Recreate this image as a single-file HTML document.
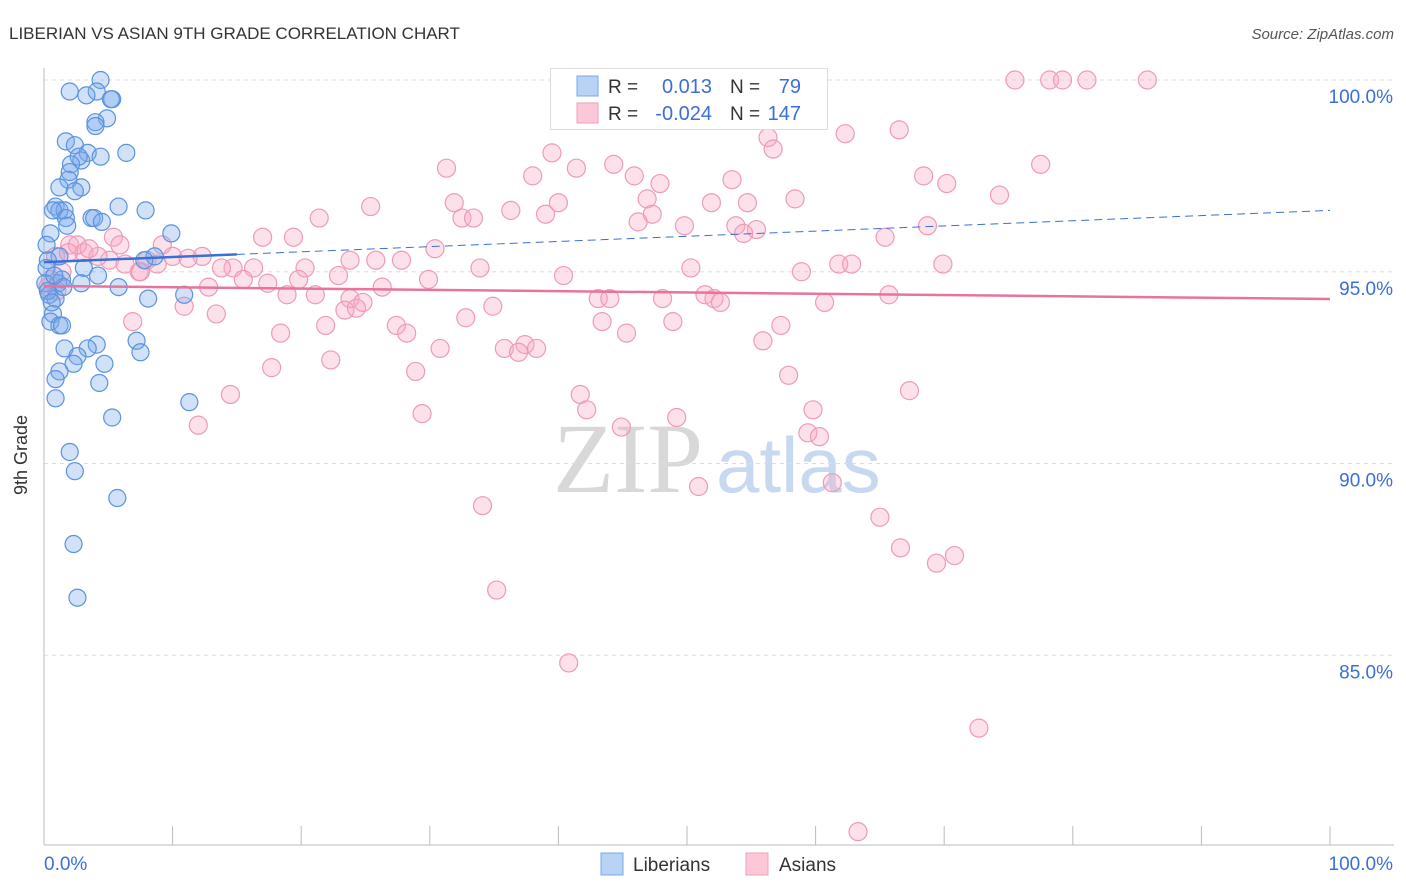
<!DOCTYPE html>
<html><head><meta charset="utf-8"><style>
body{margin:0;background:#fff;font-family:"Liberation Sans",sans-serif}
svg{display:block}
</style></head><body>
<svg id="chart" width="1406" height="892">
<text x="9" y="39" font-size="17" fill="#333">LIBERIAN VS ASIAN 9TH GRADE CORRELATION CHART</text>
<text x="1394" y="39" font-size="15" fill="#555" font-style="italic" text-anchor="end">Source: ZipAtlas.com</text>
<text x="27" y="455" font-size="18" fill="#333" transform="rotate(-90 27 455)" text-anchor="middle">9th Grade</text>
<g><text x="553" y="492" font-family="Liberation Serif,serif" font-size="100" fill="#d8d8d8">ZIP</text><text x="716" y="492" font-size="78" fill="#c7d9f0">atlas</text></g>
<g id="grid"></g><g id="axes"></g><g id="pts"></g><g id="lines"></g>
<g>
<rect x="550.5" y="68.5" width="277" height="61" fill="#fff" stroke="#ddd"/>
<rect x="577" y="76" width="21" height="20" fill="#b8d3f5" stroke="#7aaae8"/>
<rect x="577" y="103" width="21" height="20" fill="#fcc8d8" stroke="#f0a0bb"/>
<text x="608" y="93" font-size="19" fill="#333">R = </text><text x="712" y="93" font-size="20" fill="#3a6fd8" text-anchor="end">0.013</text>
<text x="730" y="93" font-size="19" fill="#333">N = </text><text x="801" y="93" font-size="20" fill="#3a6fd8" text-anchor="end">79</text>
<text x="608" y="120" font-size="19" fill="#333">R = </text><text x="712" y="120" font-size="20" fill="#3a6fd8" text-anchor="end">-0.024</text>
<text x="730" y="120" font-size="19" fill="#333">N = </text><text x="801" y="120" font-size="20" fill="#3a6fd8" text-anchor="end">147</text>
</g>
<g>
<rect x="601" y="853" width="22" height="22" fill="#b8d3f5" stroke="#7aaae8"/>
<text x="633" y="871" font-size="19" fill="#333">Liberians</text>
<rect x="746" y="853" width="22" height="22" fill="#fcc8d8" stroke="#f0a0bb"/>
<text x="779" y="871" font-size="19" fill="#333">Asians</text>
</g>
</svg>
<script>
const yTicks=[100,95,90,85];
const yTickLabels=["100.0%","95.0%","90.0%","85.0%"];
const xEndLabels=["0.0%","100.0%"];
const blueX=[4.4,2.0,4.1,3.3,5.3,5.2,4.9,4.0,4.0,1.7,2.4,3.4,4.4,6.4,2.9,2.7,2.1,2.0,1.9,1.2,2.9,2.4,5.8,7.9,0.9,1.2,1.6,0.7,1.7,3.7,3.9,4.5,1.8,0.5,9.9,0.2,8.6,1.2,0.3,3.1,7.8,4.2,1.4,2.9,5.8,1.1,0.1,0.4,0.9,8.1,10.9,0.7,0.5,1.2,1.4,7.2,4.1,3.4,1.6,7.5,2.6,4.7,2.3,1.2,0.9,4.3,0.9,11.3,5.3,2.0,2.4,5.7,2.3,2.6,0.3,0.6,1.5,0.2,0.8];
const blueY=[100.0,99.7,99.7,99.6,99.5,99.5,99.0,98.9,98.8,98.4,98.3,98.1,98.0,98.1,97.9,98.0,97.8,97.6,97.4,97.2,97.2,97.1,96.7,96.6,96.7,96.6,96.6,96.6,96.4,96.4,96.4,96.3,96.2,96.0,96.0,95.7,95.4,95.4,95.3,95.1,95.3,94.9,94.8,94.7,94.6,94.7,94.7,94.4,94.3,94.3,94.4,93.9,93.7,93.6,93.6,93.2,93.1,93.0,93.0,92.9,92.8,92.6,92.6,92.4,92.2,92.1,91.7,91.6,91.2,90.3,89.8,89.1,87.9,86.5,94.5,94.2,94.6,95.1,94.9];
const pinkX=[75.5,78.2,79.2,81.1,85.8,66.5,56.3,62.3,56.7,39.5,44.3,41.4,31.3,77.5,38.0,45.9,53.5,68.4,47.9,70.2,58.4,74.3,31.9,40.0,46.9,51.9,54.7,25.4,36.3,39.0,47.3,21.4,32.5,33.4,46.2,49.8,53.8,55.4,68.7,54.4,17.0,19.4,65.4,5.4,2.0,5.9,9.2,30.4,3.1,10.0,12.3,11.2,23.8,25.8,27.8,61.8,62.8,69.9,14.7,20.3,33.9,50.3,58.9,7.4,13.8,16.3,22.9,40.4,19.8,29.9,15.5,17.4,12.8,26.3,18.9,21.1,65.7,23.8,43.1,44.0,48.1,51.4,52.1,60.7,10.9,24.8,34.9,52.6,23.4,24.3,13.4,32.8,43.4,48.9,57.3,6.9,21.9,27.4,28.2,18.4,45.3,55.9,37.4,38.3,35.8,36.9,30.8,22.3,17.7,28.9,57.9,41.7,67.3,14.5,42.2,59.8,29.4,49.2,12.0,44.9,59.4,60.3,61.3,50.9,34.1,65.0,66.6,69.4,70.8,35.2,40.8,72.7,63.3,0.9,1.4,0.5,1.0,5.1,6.3,8.8,4.2,2.6,1.9,7.5,3.5,8.0,0.3];
const pinkY=[100,100,100,100,100,98.7,98.5,98.6,98.2,98.1,97.8,97.7,97.7,97.8,97.5,97.5,97.4,97.5,97.3,97.3,96.9,97.0,96.8,96.8,96.9,96.8,96.8,96.7,96.6,96.5,96.5,96.4,96.4,96.4,96.3,96.2,96.2,96.1,96.2,96.0,95.9,95.9,95.9,95.9,95.7,95.7,95.7,95.6,95.5,95.4,95.4,95.35,95.3,95.3,95.3,95.2,95.2,95.2,95.1,95.1,95.1,95.1,95.0,95.0,95.1,95.1,94.9,94.9,94.8,94.8,94.8,94.7,94.6,94.6,94.4,94.4,94.4,94.3,94.3,94.3,94.3,94.4,94.3,94.2,94.1,94.2,94.1,94.2,94.0,94.05,93.9,93.8,93.7,93.7,93.6,93.7,93.6,93.6,93.4,93.4,93.4,93.2,93.1,93.0,93.0,92.9,93.0,92.7,92.5,92.4,92.3,91.8,91.9,91.8,91.4,91.4,91.3,91.2,91.0,90.95,90.8,90.7,89.5,89.4,88.9,88.6,87.8,87.4,87.6,86.7,84.8,83.1,80.4,95.4,95.0,94.8,94.5,95.3,95.2,95.2,95.4,95.7,95.5,95.0,95.6,95.3,94.6];
const blueTrend=[95.25,96.6];
const pinkTrend=[94.63,94.29];
const X0=44,X1=1330,Ytop=80,pxPer=38.35;
const sx=v=>X0+(X1-X0)*v/100;
const sy=v=>Ytop+(100-v)*pxPer;
const NS="http://www.w3.org/2000/svg";
function mk(tag,attrs,parent){const e=document.createElementNS(NS,tag);for(const k in attrs)e.setAttribute(k,attrs[k]);parent.appendChild(e);return e;}
const grid=document.getElementById('grid'),axes=document.getElementById('axes'),pts=document.getElementById('pts'),lines=document.getElementById('lines'),svg=document.getElementById('chart');
yTicks.forEach((t,i)=>{
 const g=mk('line',{x1:X0,x2:1394,y1:sy(t),y2:sy(t),stroke:'#ddd','stroke-dasharray':'4,4'},grid);
 
 
 const l=mk('text',{x:1393,y:sy(t)+23,'font-size':19,fill:'#3a6fd8','text-anchor':'end'},axes);
 l.textContent=yTickLabels[i];
 
 
});
const ya=mk('line',{x1:X0,x2:X0,y1:68,y2:845,stroke:'#bbb'},axes);


const xa=mk('line',{x1:X0,x2:1394,y1:845,y2:845,stroke:'#bbb'},axes);


for(let i=0;i<=10;i++){const t=mk('line',{x1:sx(i*10),x2:sx(i*10),y1:826,y2:845,stroke:'#bbb'},axes);
 
 }
const xl0=mk('text',{x:44,y:870,'font-size':19,fill:'#3a6fd8'},axes);xl0.textContent=xEndLabels[0];


const xl1=mk('text',{x:1393,y:870,'font-size':19,fill:'#3a6fd8','text-anchor':'end'},axes);xl1.textContent=xEndLabels[1];


pinkX.forEach((x,i)=>{const c=mk('circle',{cx:sx(x),cy:sy(pinkY[i]),r:9,fill:'rgba(248,170,196,0.35)',stroke:'#ee9ab6','stroke-width':1.2},pts);
 
 });
blueX.forEach((x,i)=>{const c=mk('circle',{cx:sx(x),cy:sy(blueY[i]),r:8.5,fill:'rgba(120,170,235,0.35)',stroke:'#5a93e0','stroke-width':1.2},pts);
 
 });
const bAt=x=>blueTrend[0]+(blueTrend[1]-blueTrend[0])*x/100;
const pAt=x=>pinkTrend[0]+(pinkTrend[1]-pinkTrend[0])*x/100;
const bs=mk('line',{x1:sx(0),y1:sy(bAt(0)),x2:sx(15),y2:sy(bAt(15)),stroke:'#3a6fd8','stroke-width':2.5},lines);


const bd=mk('line',{x1:sx(15),y1:sy(bAt(15)),x2:sx(100),y2:sy(bAt(100)),stroke:'#3a6fd8','stroke-width':1,'stroke-dasharray':'8,5'},lines);


const pl=mk('line',{x1:sx(0),y1:sy(pAt(0)),x2:sx(100),y2:sy(pAt(100)),stroke:'#e8739c','stroke-width':2.5},lines);


</script>
</body></html>
